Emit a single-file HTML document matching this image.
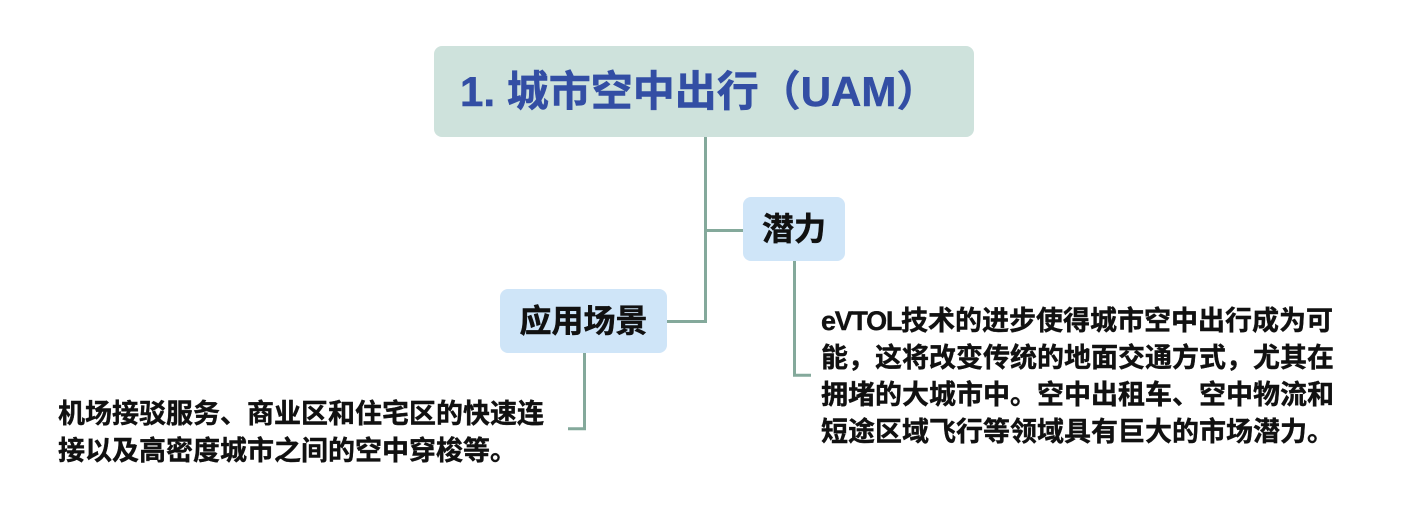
<!DOCTYPE html>
<html lang="zh">
<head>
<meta charset="utf-8">
<style>
  html, body { margin: 0; padding: 0; background: #ffffff; }
  body { width: 1411px; height: 517px; position: relative; overflow: hidden;
         font-family: "Liberation Sans", "Noto Sans CJK SC", sans-serif; font-weight: bold; }
  .abs { position: absolute; white-space: nowrap; }
  .root { left: 434px; top: 46px; width: 540px; height: 91px; background: #cee2dc; border-radius: 8px; }
  .rootText { left: 460px; top: 46px; height: 91px; line-height: 91px; font-size: 42px; color: #334ea4; -webkit-text-stroke: 0.5px #334ea4; }
  .sub { background: #cfe5f8; border-radius: 8px; color: #111; font-size: 32px; text-align: center; -webkit-text-stroke: 0.5px #111; }
  .body { color: #111; font-size: 27px; line-height: 37px; -webkit-text-stroke: 0.4px #111; }
  .lat { letter-spacing: -1.3px; }
</style>
</head>
<body>
<svg class="abs" style="left:0;top:0" width="1411" height="517" viewBox="0 0 1411 517">
  <g fill="none" stroke="#84a99b" stroke-width="3" stroke-linejoin="miter" stroke-linecap="butt">
    <path d="M705.5 137 V321.5 H667"/>
    <path d="M705.5 230.5 H743"/>
    <path d="M794.5 261 V375.2 H811"/>
    <path d="M584.5 353 V428.8 H568"/>
  </g>
</svg>

<div class="abs root"></div>
<div class="abs rootText">1. 城市空中出行（UAM）</div>

<div class="abs sub" style="left:743px;top:197px;width:102px;height:64px;line-height:64px;">潜力</div>
<div class="abs sub" style="left:500px;top:289px;width:167px;height:64px;line-height:64px;">应用场景</div>

<div class="abs body" style="left:821px;top:303px;">
  <div><span class="lat">eVTOL</span>技术的进步使得城市空中出行成为可</div>
  <div>能，这将改变传统的地面交通方式，尤其在</div>
  <div>拥堵的大城市中。空中出租车、空中物流和</div>
  <div>短途区域飞行等领域具有巨大的市场潜力。</div>
</div>

<div class="abs body" style="left:58px;top:396px;">
  <div>机场接驳服务、商业区和住宅区的快速连</div>
  <div>接以及高密度城市之间的空中穿梭等。</div>
</div>
</body>
</html>
